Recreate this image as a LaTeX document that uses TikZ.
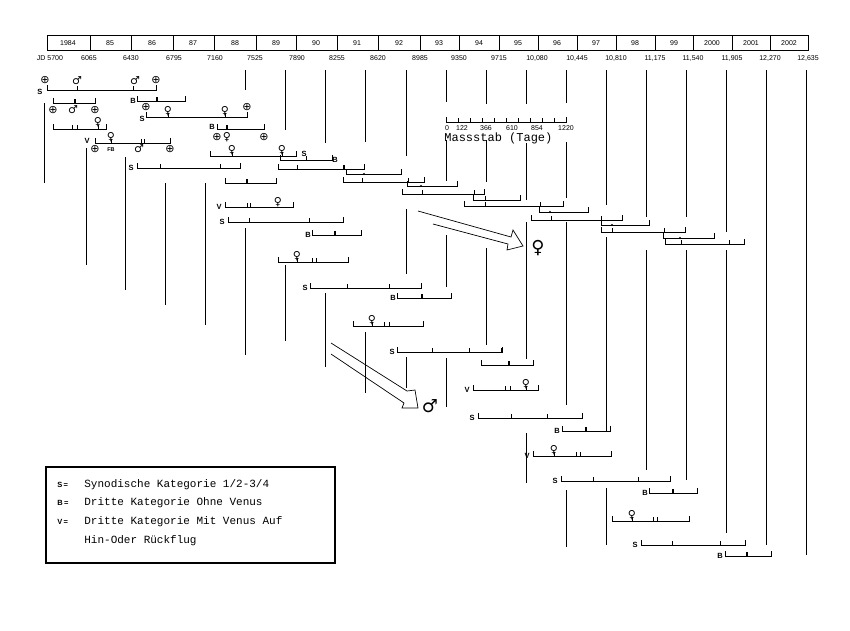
\documentclass[tikz,border=0pt]{standalone}
\usepackage{fontspec}
\setmainfont{Liberation Sans}
\setmonofont{Liberation Mono}
\newfontfamily\symfont{DejaVu Sans}
\usetikzlibrary{positioning}

% bracket bar: ends turned up
\newcommand\tbar[3]{\draw (#1,#3-5)--(#1,#3)--(#2,#3)--(#2,#3-5);}
\newcommand\ttick[2]{\draw (#1,#2)--(#1,#2-4);}
\newcommand\tmark[2]{\fill (#1-1,#2) rectangle (#1+1,#2-4);}

\begin{document}
\begin{tikzpicture}[x=1pt,y=-1pt,line width=0.7pt,
    sym/.style={font=\symfont\fontsize{11}{11}\selectfont,inner sep=0pt},
    cat/.style={font=\bfseries\fontsize{7.5}{7.5}\selectfont,inner sep=0pt},
    year/.style={font=\fontsize{7}{7}\selectfont,inner sep=0pt,anchor=base},
    big/.style={font=\symfont\fontsize{18}{18}\selectfont,inner sep=0pt}]
\useasboundingbox (0,0) rectangle (850,630);

% header
\draw (47,35) rectangle (808,50);
\foreach \x in {90,131,173,214,256,296,337,378,420,459,499,538,577,616,655,693,732,770}
  {\draw (\x,35)--(\x,50);}
\foreach \x/\t [count=\i] in {68/1984,110/85,152/86,193/87,235/88,276/89,316/90,357/91,399/92,439/93,479/94,518/95,557/96,596/97,635/98,674/99,712/2000,751/2001,789/2002}
  {\node[year] (y\i) at (\x,45.5) {\t};}
\foreach \x/\t [count=\i] in {50/JD 5700,89/6065,131/6430,174/6795,215/7160,255/7525,297/7890,337/8255,378/8620,420/8985,459/9350,499/9715,537/{10,080},577/{10,445},616/{10,810},655/{11,175},693/{11,540},732/{11,905},770/{12,270},808/{12,635}}
  {\node[year] (jd\i) at (\x,60.5) {\t};}

% vertical lines
\foreach \x/\a/\b in {44/103/183,86/148/265,125/157/290,165/183/305,205/183/325,
  245/70/90,245/228/355,285/70/130,285/265/341,325/70/143,325/293/367,
  365/70/142,365/332/393,406/70/156,406/209/274,406/357/388,
  446/70/102,446/140/181,446/235/287,446/358/407,486/70/104,486/140/182,486/248/345,
  526/70/104,526/143/200,526/222/359,526/433/483,566/70/103,566/142/198,566/222/405,566/490/547,
  606/70/205,606/237/432,606/488/545,646/70/217,646/250/470,686/70/217,686/250/480,
  726/70/232,726/250/533,766/70/545,806/70/555}
  {\draw (\x,\a)--(\x,\b);}

% bars
\foreach \a/\b/\y in {47/156/90,53/95/103,137/185/101,146/247/117,53/106/129,217/264/129,
  95/170/143,210/296/156,280/332/160,137/240/168,278/364/169,346/401/174,225/276/183,
  343/424/182,407/457/186,402/484/194,473/520/200,464/563/206,539/588/212,531/622/220,
  601/649/225,601/685/232,663/714/238,665/744/244,
  225/293/207,228/343/222,312/361/235,278/348/262,310/421/288,397/451/298,353/423/326,
  397/502/352,481/533/365,473/538/390,478/582/418,562/610/431,533/611/456,561/670/481,
  649/697/493,612/689/521,641/745/545,725/771/556}
  {\tbar{\a}{\b}{\y}}
\foreach \x/\y in {77/90,133/90,72/129,77/129,141/143,144/143,160/168,220/168,297/169,
  362/182,408/182,422/194,474/194,485/200,485/206,540/206,551/220,601/220,612/232,664/232,
  681/244,729/244,247/207,250/207,249/222,309/222,312/262,316/262,347/288,389/288,
  384/326,389/326,432/352,469/352,505/390,510/390,511/418,547/418,576/456,580/456,
  593/481,638/481,653/521,657/521,672/545,720/545,306/160,168/117,225/117,98/129,
  111/143,232/156,282/156,297/262,372/326,526/390,554/456,632/521}
  {\ttick{\x}{\y}}
\foreach \x/\y in {75/103,157/101,227/129,344/169,247/183,335/235,422/298,502/352,509/365,
  586/431,673/493,747/556}
  {\tmark{\x}{\y}}
\foreach \x/\y in {364/174,421/186,550/212,612/225,680/238}
  {\fill (\x,\y) circle (1.2);}

% symbols
\foreach \x/\y/\s in {45/80/⊕,77/81/♂,135/81/♂,156/80/⊕,53/110/⊕,73/110/♂,95/110/⊕,
  146/107/⊕,168/111/♀,225/111/♀,247/107/⊕,98/122/♀,217/137/⊕,227/137/♀,264/137/⊕,
  111/137/♀,95/149/⊕,139/149/♂,170/149/⊕,232/150/♀,282/150/♀,278/202/♀,297/256/♀,
  372/320/♀,526/384/♀,554/450/♀,632/515/♀}
  {\node[sym] at (\x,\y) {\s};}
\node[cat,font=\bfseries\fontsize{5.5}{5.5}\selectfont] (fb) at (111,150) {FB};

% category letters
\foreach \x/\y/\s in {40/92/S,133/101/B,142/119/S,212/127/B,87/141/V,304/154/S,335/160/B,
  131/168/S,219/207/V,222/222/S,308/235/B,305/288/S,393/298/B,392/352/S,467/390/V,
  472/418/S,557/431/B,527/456/V,555/481/S,645/493/B,635/545/S,720/556/B}
  {\node[cat] at (\x,\y) {\s};}

% scale
\draw (446,117)--(446,122)--(566,122)--(566,117);
\foreach \x in {458,470,482,494,506,518,530,542,554}
  {\draw (\x,122)--(\x,118);}
\foreach \x/\t in {447/0,462/122,486/366,512/610,537/854,566/1220}
  {\node[year] at (\x,130) {\t};}
\node[font=\ttfamily\fontsize{12}{12}\selectfont,anchor=west,inner sep=0pt] (mass) at (444,138) {Massstab (Tage)};

% hollow arrows
\draw (418,211)--(511,237)--(513,230)--(523,246)--(507,250)--(508,244)--(433,224);
\draw (331,343)--(407,391)--(415,390)--(418,408)--(402,408)--(404,403)--(331,354);
\node[big] (venus) at (538,248) {♀};
\node[big] (mars) at (430,406) {♂};

% legend
\draw[line width=1.3pt] (46,467) rectangle (335,563);
\foreach \y/\c in {485/S,503/B,522/V}
  {\node[cat,anchor=west] at (57,\y) {\c\,=};}
\foreach \y/\t [count=\i] in {485/{Synodische Kategorie 1/2-3/4},503/{Dritte Kategorie Ohne Venus},522/{Dritte Kategorie Mit Venus Auf},541/{Hin-Oder Rückflug}}
  {\node[font=\ttfamily\fontsize{11}{11}\selectfont,anchor=west,inner sep=0pt] (leg\i) at (84,\y) {\t};}
\end{tikzpicture}
\end{document}
